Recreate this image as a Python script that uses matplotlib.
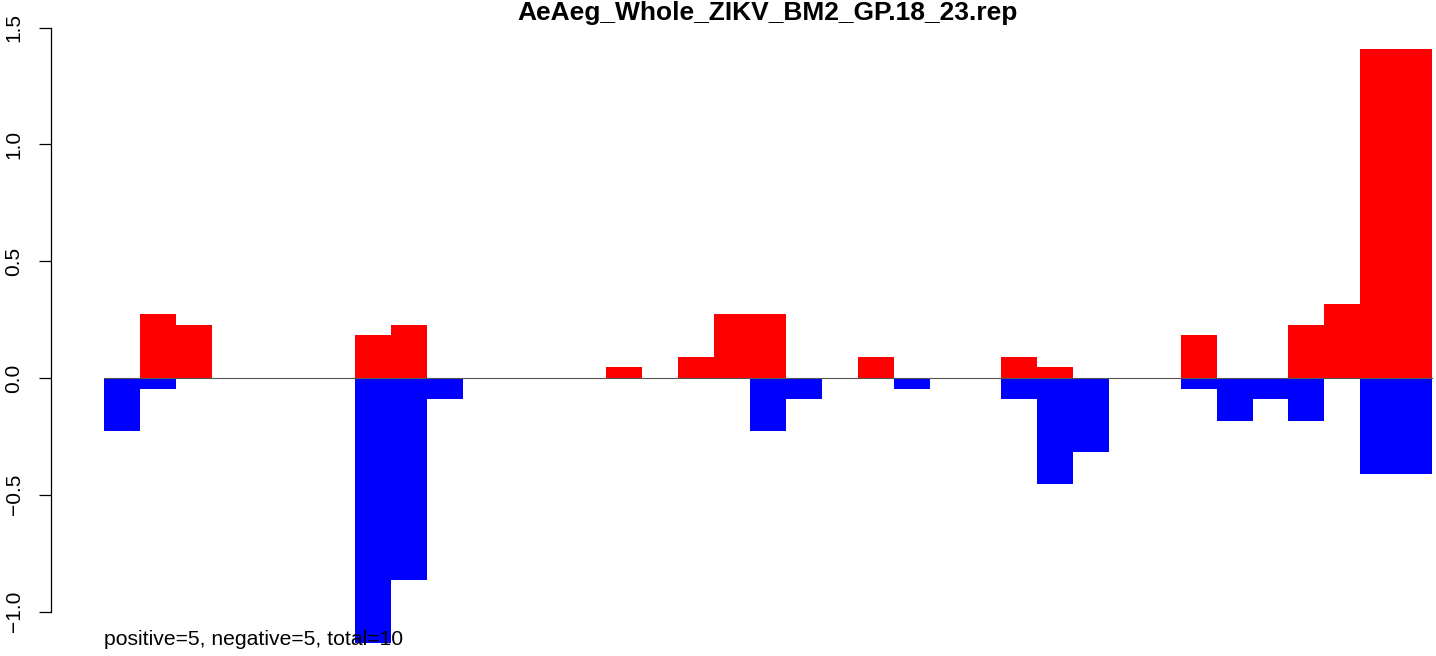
# Positive / negative count bars for one rep file
# R-style barplot look, red above zero and blue below

# %%
import matplotlib
matplotlib.use('Agg')
import numpy as np
import matplotlib.pyplot as plt

plt.rcParams['font.family'] = ['Liberation Sans', 'DejaVu Sans']

# %%
# Data (one value per bin)
title = 'AeAeg_Whole_ZIKV_BM2_GP.18_23.rep'
note = 'positive=5, negative=5, total=10'

positive = [0, 0.273, 0.227, 0, 0, 0, 0, 0.182, 0.227, 0,
            0, 0, 0, 0, 0.045, 0, 0.091, 0.273, 0.273, 0,
            0, 0.091, 0, 0, 0, 0.091, 0.045, 0, 0, 0,
            0.182, 0, 0, 0.227, 0.318, 1.409, 1.409]
negative = [-0.227, -0.045, 0, 0, 0, 0, 0, -1.136, -0.864, -0.091,
            0, 0, 0, 0, 0, 0, 0, 0, -0.227, -0.091,
            0, 0, -0.045, 0, 0, -0.091, -0.455, -0.318, 0, 0,
            -0.045, -0.182, -0.091, -0.182, 0, -0.409, -0.409]
ytick_values = [-1.0, -0.5, 0.0, 0.5, 1.0, 1.5]
ytick_labels = ['\u22121.0', '\u22120.5', '0.0', '0.5', '1.0', '1.5']

# %%
# Plot
W, H = 1436, 656
fig = plt.figure(figsize=(W / 100, H / 100), dpi=100)

# axes placed so bins run from px 104 to 1432 and zero sits at px 378
left_px = 50.7
ax = fig.add_axes([left_px / W, 0, 1 - left_px / W, 1])
n = len(positive)
xscale = (1432 - 104) / n
yscale = (612 - 28) / 2.5
ax.set_xlim(-(104 - left_px) / xscale, n + (W - 1432) / xscale)
ax.set_ylim(-(H - 378) / yscale, 378 / yscale)

idx = np.arange(n)
ax.bar(idx, positive, width=1, align='edge', color='#FF0000', linewidth=0)
ax.bar(idx, negative, width=1, align='edge', color='#0000FF', linewidth=0)
ax.plot([0, n], [0, 0], color='#555555', lw=0.8, zorder=3)

for side in ['top', 'right', 'bottom']:
    ax.spines[side].set_visible(False)
ax.spines['left'].set_bounds(-1.0, 1.5)
ax.spines['left'].set_linewidth(0.9)
ax.set_xticks([])
ax.set_yticks(ytick_values)
ax.set_yticklabels(ytick_labels, rotation=90, va='center')
ax.tick_params(axis='y', length=9, width=0.9, pad=10.5, labelsize=15)

fig.text(768 / W, 1 - 20 / H, title, ha='center', va='baseline',
         fontsize=19, fontweight='bold')
ax.text(0, -(645 - 378) / yscale, note, ha='left', va='baseline',
        fontsize=15.2)

fig.savefig('out.png', dpi=100)
